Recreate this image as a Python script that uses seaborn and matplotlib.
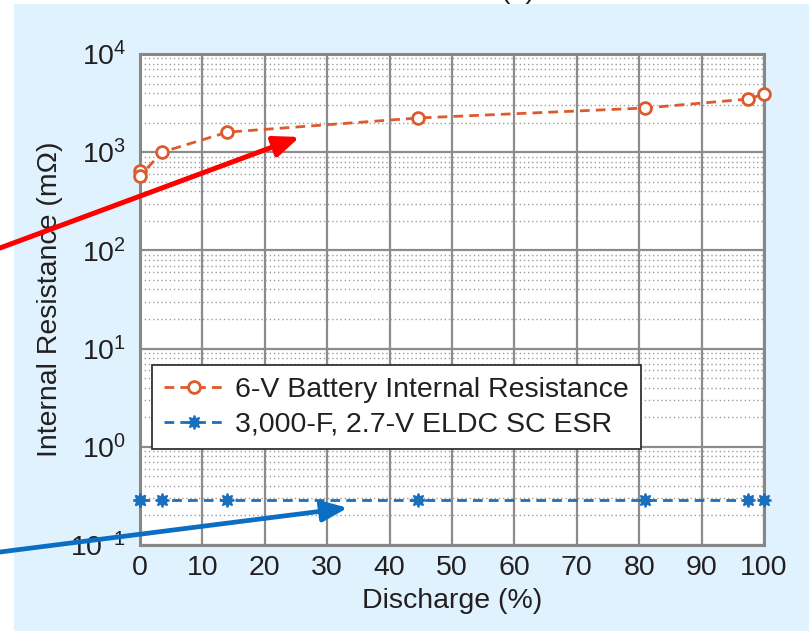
import matplotlib
matplotlib.use('Agg')
import matplotlib.pyplot as plt
import seaborn as sns
import pandas as pd
from matplotlib.patches import Rectangle
from matplotlib.ticker import LogLocator, MultipleLocator, NullFormatter

# ---------------- data ----------------
discharge_pct = [0, 0, 3.5, 14, 44.5, 81, 97.5, 100]
battery_resistance_mohm = [640, 570, 1000, 1600, 2230, 2820, 3480, 3920]
sc_esr_mohm = [0.29, 0.29, 0.29, 0.29, 0.29, 0.29, 0.29, 0.29]
battery_label = "6-V Battery Internal Resistance"
sc_label = "3,000-F, 2.7-V ELDC SC ESR"
x_ticks = [0, 10, 20, 30, 40, 50, 60, 70, 80, 90, 100]

# ---------------- style ----------------
sns.set_theme(style='white')
plt.rcParams['font.family'] = ['Liberation Sans', 'DejaVu Sans']
plt.rcParams['mathtext.fontset'] = 'custom'
plt.rcParams['mathtext.rm'] = 'Liberation Sans'
plt.rcParams['axes.unicode_minus'] = True

ORANGE = '#de5a2c'
BLUE = '#1b70bd'
TEXT = '#231f20'
FS = 20.5
W, H = 811, 631

fig = plt.figure(figsize=(W / 100, H / 100), dpi=100)
fig.patch.set_facecolor('white')
fig.add_artist(Rectangle((14 / W, 0), 795 / W, 627 / H, transform=fig.transFigure,
                         facecolor='#e0f2fd', edgecolor='none', zorder=-5))

ax = fig.add_axes([140 / W, 1 - 545 / H, 624 / W, 491 / H])
ax.set_facecolor('white')

df_bat = pd.DataFrame({'Discharge': discharge_pct, 'R': battery_resistance_mohm})
df_sc = pd.DataFrame({'Discharge': discharge_pct, 'R': sc_esr_mohm})

sns.lineplot(data=df_bat, x='Discharge', y='R', ax=ax, estimator=None, sort=False,
             color=ORANGE, linewidth=2.0, linestyle=(0, (3.5, 2.2)),
             marker='o', markersize=8.5, markerfacecolor='white',
             markeredgecolor=ORANGE, markeredgewidth=2.0, label=battery_label,
             clip_on=False, zorder=5)
sns.lineplot(data=df_sc, x='Discharge', y='R', ax=ax, estimator=None, sort=False,
             color=BLUE, linewidth=2.0, linestyle=(0, (3.5, 2.2)),
             marker=(8, 1, 0), markersize=10, markerfacecolor=BLUE,
             markeredgecolor=BLUE, markeredgewidth=1.2, label=sc_label,
             clip_on=False, zorder=5)

ax.set_yscale('log')
ax.set_xlim(0, 100)
ax.set_ylim(0.1, 1e4)
ax.set_xticks(x_ticks)
ax.yaxis.set_major_locator(LogLocator(base=10, numticks=10))
ax.yaxis.set_minor_locator(LogLocator(base=10, subs=range(2, 10), numticks=20))
ax.yaxis.set_minor_formatter(NullFormatter())

ax.grid(which='major', color='#8c8c8c', linewidth=1.6, linestyle='-')
ax.grid(which='minor', axis='y', color='#9c9c9c', linewidth=1.0, linestyle=(0, (1, 2)))
ax.set_axisbelow(True)
for sp in ax.spines.values():
    sp.set_color('#878787')
    sp.set_linewidth(2.2)
    sp.set_visible(True)

ax.tick_params(which='both', length=0, labelsize=FS, labelcolor=TEXT)
ax.tick_params(axis='x', pad=7)
ax.tick_params(axis='y', pad=10)

ax.set_xlabel('Discharge (%)', fontsize=FS, color=TEXT)
ax.set_ylabel('Internal Resistance (mΩ)', fontsize=FS, color=TEXT)
ax.xaxis.set_label_coords(0.5, -0.088)
ax.yaxis.set_label_coords(-0.123, 0.5)

leg = ax.legend(loc='upper left', bbox_to_anchor=(0.019, 0.3666), borderaxespad=0,
                fontsize=FS, frameon=True, fancybox=False, framealpha=1,
                handlelength=2.1, handletextpad=0.4, borderpad=0.42,
                labelspacing=0.3, edgecolor='#333333')
leg.get_frame().set_linewidth(1.3)
for t in leg.get_texts():
    t.set_color(TEXT)
leg.set_zorder(10)

# partially cropped panel label at the top (cut off in the reference as well)
fig.text(518 / W, 1 + 2 / H, '(a)', fontsize=FS, ha='center', va='baseline', color=TEXT)

# annotation arrows
ax.annotate('', xy=(25.6, 1430), xycoords='data', xytext=(0, H - 248),
            textcoords='figure pixels', annotation_clip=False,
            arrowprops=dict(arrowstyle='-|>,head_length=1.1,head_width=0.45',
                            color='#ff0000', lw=3.6, mutation_scale=14,
                            shrinkA=0, shrinkB=0), zorder=20)
ax.annotate('', xy=(33.3, 0.239), xycoords='data', xytext=(0, H - 552),
            textcoords='figure pixels', annotation_clip=False,
            arrowprops=dict(arrowstyle='-|>,head_length=1.1,head_width=0.45',
                            color='#0a6fc2', lw=3.4, mutation_scale=14,
                            shrinkA=0, shrinkB=0), zorder=20)

fig.savefig('out.png', dpi=100, facecolor=fig.get_facecolor())
